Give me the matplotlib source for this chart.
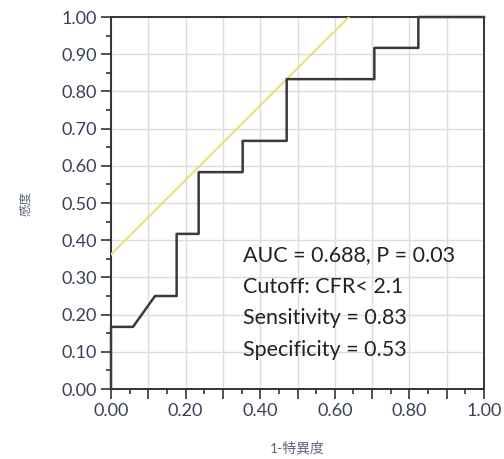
import matplotlib
matplotlib.use("Agg")
import matplotlib.pyplot as plt
import numpy as np

# ROC curve data (1 - specificity, sensitivity)
fpr = [0.0, 0.0, 0.059, 0.118, 0.176, 0.176, 0.235, 0.235, 0.353, 0.353, 0.471, 0.471, 0.706, 0.706, 0.824, 0.824, 1.0]
tpr = [0.0, 0.167, 0.167, 0.25, 0.25, 0.417, 0.417, 0.583, 0.583, 0.667, 0.667, 0.833, 0.833, 0.917, 0.917, 1.0, 1.0]
# Youden tangent line: y = x + intercept, through the cutoff point
cut_x = 0.471
cut_y = 0.833
tick_vals = [0.0, 0.1, 0.2, 0.3, 0.4, 0.5, 0.6, 0.7, 0.8, 0.9, 1.0]
x_tick_vals = [0.0, 0.2, 0.4, 0.6, 0.8, 1.0]
annot = ["AUC = 0.688, P = 0.03", "Cutoff: CFR< 2.1", "Sensitivity = 0.83", "Specificity = 0.53"]

plt.rcParams['font.family'] = ['Lato', 'Noto Sans CJK JP', 'DejaVu Sans']

fig = plt.figure(figsize=(5.04, 4.59), dpi=100)
ax = fig.add_axes([111/504, 1-389/459, 373/504, 372/459])

ax.set_xlim(0, 1)
ax.set_ylim(0, 1)
ax.grid(True, color='#dcdcdc', linewidth=1.0)
ax.set_axisbelow(True)
ax.set_yticks(tick_vals)
ax.set_yticklabels([f"{v:.2f}" for v in tick_vals])
all_x = np.arange(0, 1.01, 0.1)
ax.set_xticks(all_x)
ax.set_xticklabels([f"{v:.2f}" if round(v*10) % 2 == 0 else "" for v in all_x])
ax.set_xticks(np.arange(0.05, 1.0, 0.1), minor=True)
ax.set_yticks(np.arange(0.05, 1.0, 0.1), minor=True)

ax.tick_params(axis='both', which='major', direction='out', length=7, width=1.2,
               color='#333333', labelsize=13, labelcolor='#3a4058', pad=3)
ax.tick_params(axis='both', which='minor', direction='out', length=3.5, width=1.2, color='#333333')
for s in ax.spines.values():
    s.set_color('#333333')
    s.set_linewidth(1.4)

inter = cut_y - cut_x
xl = np.array([0.0, 1.0 - inter])
ax.plot(xl, xl + inter, color='#e8e27a', linewidth=1.5, zorder=3, clip_on=True)

ax.plot(fpr, tpr, color='#3a3a3a', linewidth=1.8, zorder=4, clip_on=False)

for i, t in enumerate(annot):
    ax.text(0.355, 0.36 - i*0.085, t, fontsize=15.5, color='#222222', va='center', ha='left',
            transform=ax.transAxes, zorder=5)

ax.set_ylabel("感度", fontsize=9, color='#606878', labelpad=22)
ax.set_xlabel("1-特異度", fontsize=10, color='#606878', labelpad=16)

fig.savefig("out.png", dpi=100)
